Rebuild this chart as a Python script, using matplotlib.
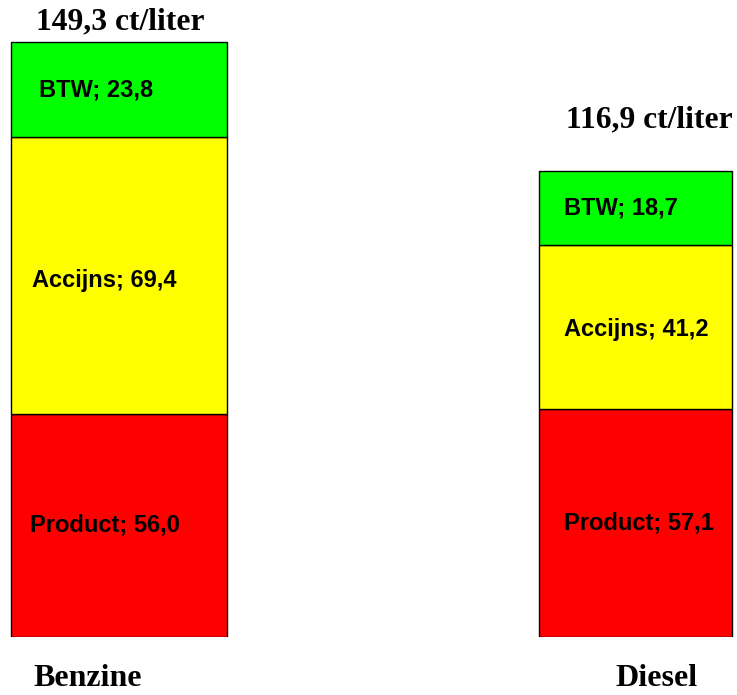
import matplotlib
matplotlib.use("Agg")
import matplotlib.pyplot as plt
import numpy as np

# ── data ───────────────────────────────────────────────────────────────────────
fuels = ["Benzine", "Diesel"]
components = ["Product", "Accijns", "BTW"]
product = [56.0, 57.1]
accijns = [69.4, 41.2]
btw = [23.8, 18.7]
totals = [149.3, 116.9]

colors = ["#FF0000", "#FFFF00", "#00FF00"]

# ── layout (x in pixels, y in ct/liter) ───────────────────────────────────────
W, H = 737, 695
bottom_px = 58
px_per_unit = 3.987
centers = [119, 635.5]
widths = [216, 193]
label_left = [[30, 32, 39], [564, 564, 564]]   # per bar, per component
label_dy = [[0, -1.3, 0], [0, -0.5, 0]]         # small vertical nudges
total_xy = [(120, 4.9), (649, 12.8)]          # x centre, y offset above bar
cat_xy = [(88, 679), (657, 679)]               # pixel positions from top

fig = plt.figure(figsize=(W / 100, H / 100), dpi=100)
ax = fig.add_axes([0, bottom_px / H, 1, 1 - bottom_px / H])
ax.set_xlim(0, W)
ax.set_ylim(0, (H - bottom_px) / px_per_unit)
ax.axis("off")

series = [product, accijns, btw]
base = np.zeros(len(fuels))
for j, (comp, vals, col) in enumerate(zip(components, series, colors)):
    ax.bar(centers, vals, width=widths, bottom=base, color=col,
           edgecolor="black", linewidth=1.0)
    for i, v in enumerate(vals):
        ax.text(label_left[i][j], base[i] + v / 2 + label_dy[i][j],
                f"{comp}; {v:.1f}".replace(".", ","),
                ha="left", va="center", fontsize=17, fontweight="bold",
                family="Liberation Sans")
    base += np.array(vals)

for i, t in enumerate(totals):
    x, dy = total_xy[i]
    ax.text(x, t + dy, f"{t:.1f} ct/liter".replace(".", ","),
            ha="center", va="center", fontsize=22.7, fontweight="bold",
            family="Liberation Serif")

for name, (x, y) in zip(fuels, cat_xy):
    fig.text(x / W, 1 - y / H, name, ha="center", va="center",
             fontsize=23, fontweight="bold", family="Liberation Serif")

fig.savefig("out.png", dpi=100)
